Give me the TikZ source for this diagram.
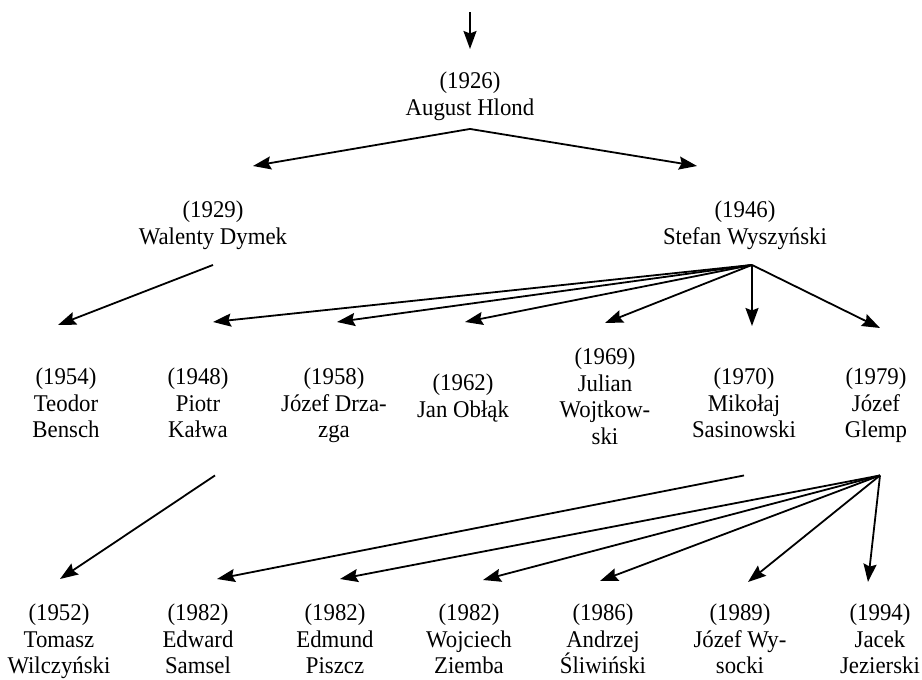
\documentclass[tikz,border=0pt]{standalone}
\usepackage{fontspec}
\setmainfont[FakeStretch=0.95]{Liberation Serif}
\usetikzlibrary{arrows.meta,positioning}

\begin{document}
\begin{tikzpicture}[x=1pt,y=-1pt,>={Stealth[length=18pt,width=13pt,inset=2.5pt]},line width=1.8pt,
    bishop/.style={align=center,inner sep=0pt,anchor=north,text depth=0pt,
        font=\fontsize{24}{26.5}\selectfont}]

    \useasboundingbox (0,0) rectangle (922,680);

    \node[bishop] (hlond) at (470,71) {(1926)\\August Hlond};

    \node[bishop] (dymek) at (213,200) {(1929)\\Walenty Dymek};
    \node[bishop] (wyszynski) at (745,200) {(1946)\\Stefan Wyszyński};

    \node[bishop] (bensch) at (66,367) {(1954)\\Teodor\\Bensch};
    \node[bishop] (kalwa) at (198,367) {(1948)\\Piotr\\Kałwa};
    \node[bishop] (drzazga) at (334,367) {(1958)\\Józef Drza-\\zga};
    \node[bishop] (oblak) at (463,373) {(1962)\\Jan Obłąk};
    \node[bishop] (wojtkowski) at (605,347) {(1969)\\Julian\\Wojtkow-\\ski};
    \node[bishop] (sasinowski) at (744,367) {(1970)\\Mikołaj\\Sasinowski};
    \node[bishop] (glemp) at (876,367) {(1979)\\Józef\\Glemp};

    \node[bishop] (wilczynski) at (59,603) {(1952)\\Tomasz\\Wilczyński};
    \node[bishop] (samsel) at (198,603) {(1982)\\Edward\\Samsel};
    \node[bishop] (piszcz) at (335,603) {(1982)\\Edmund\\Piszcz};
    \node[bishop] (ziemba) at (469,603) {(1982)\\Wojciech\\Ziemba};
    \node[bishop] (sliwinski) at (603,603) {(1986)\\Andrzej\\Śliwiński};
    \node[bishop] (wysocki) at (740,603) {(1989)\\Józef Wy-\\socki};
    \node[bishop] (jezierski) at (880,603) {(1994)\\Jacek\\Jezierski};

    % arrow ends
    \coordinate (root) at (470,12);
    \coordinate (dymek-in) at (253,166);
    \coordinate (wyszynski-in) at (697,166);
    \coordinate (bensch-in) at (58,325);
    \coordinate (kalwa-in) at (213,322);
    \coordinate (drzazga-in) at (337,322);
    \coordinate (oblak-in) at (465,322);
    \coordinate (wojtkowski-in) at (605,323);
    \coordinate (sasinowski-in) at (752,326);
    \coordinate (glemp-in) at (880,328);
    \coordinate (wilczynski-in) at (60,579);
    \coordinate (samsel-in) at (217,579);
    \coordinate (piszcz-in) at (340,579);
    \coordinate (ziemba-in) at (483,580);
    \coordinate (sliwinski-in) at (600,581);
    \coordinate (wysocki-in) at (748,582);
    \coordinate (jezierski-in) at (868,582);

    \draw[->] (root) -- ([yshift=22pt]hlond.north);

    \path[->] ([yshift=-13pt]hlond.south) edge (dymek-in)
                                          edge (wyszynski-in);

    \path[->] ([yshift=-20pt]dymek.south) edge (bensch-in);

    \path[->] ([xshift=7pt,yshift=-20pt]wyszynski.south) edge (kalwa-in)
                                                         edge (drzazga-in)
                                                         edge (oblak-in)
                                                         edge (wojtkowski-in)
                                                         edge (sasinowski-in)
                                                         edge (glemp-in);

    \path[->] ([xshift=17pt,yshift=-37pt]kalwa.south) edge (wilczynski-in);

    \path[->] ([yshift=-37pt]sasinowski.south) edge (samsel-in);

    \path[->] ([xshift=4pt,yshift=-37pt]glemp.south) edge (piszcz-in)
                                                     edge (ziemba-in)
                                                     edge (sliwinski-in)
                                                     edge (wysocki-in)
                                                     edge (jezierski-in);
\end{tikzpicture}
\end{document}
